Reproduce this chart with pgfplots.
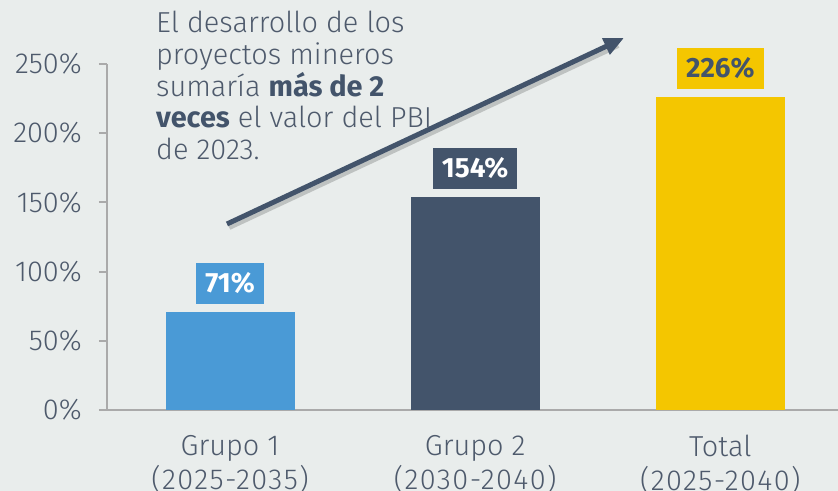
\documentclass[border=0pt]{standalone}
\usepackage{fontspec}
\setmainfont{Fira Sans Light}[BoldFont={Fira Sans Bold}]
\usepackage{pgfplots}
\pgfplotsset{compat=1.18}
\usetikzlibrary{arrows.meta}
\definecolor{bg}{RGB}{233,237,236}
\definecolor{cblue}{RGB}{74,154,214}
\definecolor{cdark}{RGB}{67,84,107}
\definecolor{cyellow}{RGB}{244,198,0}
\definecolor{ctext}{RGB}{78,90,108}
\definecolor{caxis}{RGB}{170,170,170}
\newcommand{\spaced}[1]{{\addfontfeatures{LetterSpace=5}#1}}
\begin{document}
\begin{tikzpicture}[x=1bp,y=1bp]
\useasboundingbox (0,0) rectangle (838,491);
\fill[bg] (0,0) rectangle (838,491);
\begin{axis}[
  at={(107bp,81bp)}, anchor=south west,
  scale only axis, width=731bp, height=346bp,
  xmin=-0.502, xmax=2.48, ymin=0, ymax=250,
  axis lines=left,
  axis line style={-, draw=caxis, line width=2bp},
  tick align=outside, major tick length=8bp,
  ytick={0,50,100,150,200,250},
  yticklabels={0\%,50\%,100\%,150\%,200\%,250\%},
  ytick style={draw=caxis, line width=2bp},
  xtick={0,1,2},
  xtick style={draw=none},
  xticklabels={Grupo 1\\\spaced{(2025-2035)},Grupo 2\\\spaced{(2030-2040)},Total\\\spaced{(2025-2040)}},
  yticklabel style={font=\fontsize{29}{33}\selectfont, text=ctext, anchor=east, inner sep=0pt, xshift=-17bp},
  xticklabel style={font=\fontsize{29}{34}\selectfont, text=ctext, align=center, anchor=north, inner sep=0pt, yshift=-17bp},
  /pgf/number format/assume math mode=true,
  clip=false,
]
\addplot[ybar, bar width=129bp, bar shift=0pt, fill=cblue, draw=none,
  nodes near coords={\pgfmathprintnumber{\pgfplotspointmeta}\%},
  every node near coord/.append style={anchor=south, yshift=8bp, fill=cblue, text=white,
    font=\fontsize{28}{30}\selectfont\bfseries, minimum height=41bp, inner xsep=9bp, inner ysep=0pt}]
  coordinates {(0,71)};
\addplot[ybar, bar width=129bp, bar shift=0pt, fill=cdark, draw=none,
  nodes near coords={\pgfmathprintnumber{\pgfplotspointmeta}\%},
  every node near coord/.append style={anchor=south, yshift=8bp, fill=cdark, text=white,
    font=\fontsize{28}{30}\selectfont\bfseries, minimum height=41bp, inner xsep=9bp, inner ysep=0pt}]
  coordinates {(1,154)};
\addplot[ybar, bar width=129bp, bar shift=0pt, fill=cyellow, draw=none,
  nodes near coords={\pgfmathprintnumber{\pgfplotspointmeta}\%},
  every node near coord/.append style={anchor=south, yshift=8bp, fill=cyellow, text=cdark,
    font=\fontsize{28}{30}\selectfont\bfseries, minimum height=41bp, inner xsep=9bp, inner ysep=0pt}]
  coordinates {(2,226)};
\end{axis}
\begin{scope}[every node/.style={anchor=base west, inner sep=0pt, text=ctext, font=\fontsize{29}{32}\selectfont}]
\node at (156,458) {El desarrollo de los};
\node at (156,426) {proyectos mineros};
\node at (156,394) {sumaría \textcolor{cdark}{\bfseries más de 2}};
\node at (156,363) {\textcolor{cdark}{\bfseries veces} el valor del PBI};
\node at (156,331) {de 2023.};
\end{scope}
\draw[black, opacity=0.18, line width=6bp] (229,264) -- (618,446);
\draw[cdark, line width=5bp, -{Triangle[length=20bp,width=17bp]}] (227,267) -- (624,453);
\end{tikzpicture}
\end{document}
